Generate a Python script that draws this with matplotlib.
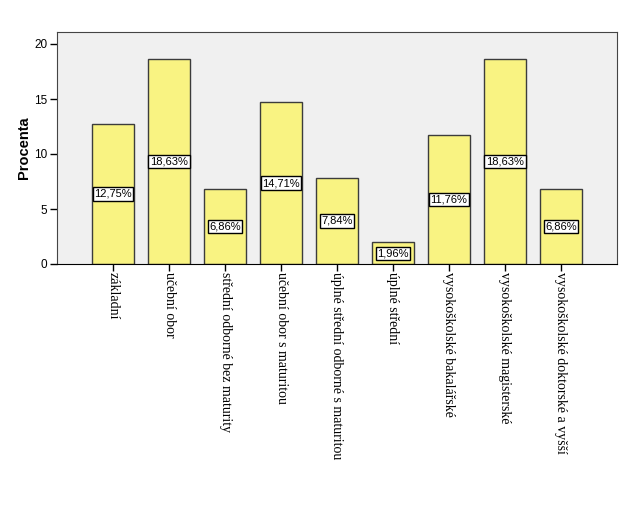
import matplotlib
matplotlib.use("Agg")
import matplotlib.pyplot as plt

categories = [
    "základní",
    "učební obor",
    "střední odborné bez maturity",
    "učební obor s maturitou",
    "úplné střední odborné s maturitou",
    "úplné střední",
    "vysokoškolské bakalářské",
    "vysokoškolské magisterské",
    "vysokoškolské doktorské a vyšší",
]
percent = [12.75, 18.63, 6.86, 14.71, 7.84, 1.96, 11.76, 18.63, 6.86]
yticks = [0, 5, 10, 15, 20]

fig = plt.figure(figsize=(6.25, 5.26), dpi=100)
ax = fig.add_axes([57 / 625, 1 - 264 / 526, 560 / 625, 232 / 526])
ax.set_facecolor("#f0f0f0")

xpos = list(range(1, len(categories) + 1))
ax.bar(xpos, percent, width=0.75, color="#f9f382", edgecolor="#3c3c3c", linewidth=1, zorder=2)

for x, v in zip(xpos, percent):
    ax.text(x, v / 2, f"{v:.2f}%".replace(".", ","), ha="center", va="center",
            fontsize=8, family="Liberation Sans", zorder=3,
            bbox=dict(boxstyle="square,pad=0.15", facecolor="white", edgecolor="black", linewidth=1))

ax.set_xlim(0, 10)
ax.set_ylim(0, 232 / 11)
ax.set_yticks(yticks)
ax.set_yticklabels([str(t) for t in yticks], family="Liberation Sans", fontsize=8.5)
ax.set_xticks(xpos)
ax.set_xticklabels(categories, rotation=270, family="Liberation Serif", fontsize=10,
                   va="top", ha="center")
ax.tick_params(axis="both", direction="out", length=5, width=1, color="black", pad=2)
ax.tick_params(axis="x", pad=1)
ax.set_ylabel("Procenta", fontsize=10.5, fontweight="bold", family="Liberation Sans", labelpad=2)

for side in ["top", "right", "left"]:
    ax.spines[side].set_color("#444444")
ax.spines["bottom"].set_color("black")

fig.savefig("out.png", dpi=100)
